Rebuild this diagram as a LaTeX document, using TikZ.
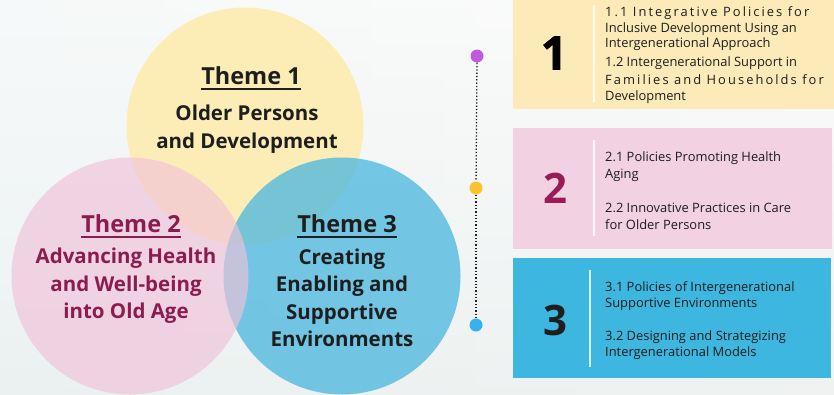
\documentclass[tikz,border=0pt]{standalone}
\usepackage{fontspec}
\setmainfont{Open Sans}
\newfontfamily\heavy{Open Sans Bold}[FakeBold=1.6]
\usetikzlibrary{positioning}
\definecolor{bgA}{HTML}{F7F7F5}
\definecolor{bgB}{HTML}{E8EFEF}
\definecolor{cYel}{HTML}{FCEDB6}
\definecolor{cPink}{HTML}{F0C2D9}
\definecolor{cBlue}{HTML}{4FB9DF}
\definecolor{bYel}{HTML}{FCEBB8}
\definecolor{bPink}{HTML}{F1D1E2}
\definecolor{bBlue}{HTML}{3DB6E0}
\definecolor{maroon}{HTML}{8C1B50}
\definecolor{numMaroon}{HTML}{9A1B55}
\definecolor{ink}{HTML}{1E1E1E}
\definecolor{dotP}{HTML}{C05BE0}
\definecolor{dotY}{HTML}{F7C42E}
\definecolor{dotB}{HTML}{36B2F2}
\tikzset{
  venn/.style={circle, minimum size=237pt, inner sep=0pt},
  themehead/.style={font=\fontsize{23.5}{26}\selectfont\bfseries, inner sep=0pt},
  themebody/.style={font=\fontsize{20.5}{27.5}\selectfont\bfseries, align=center, inner sep=0pt},
  bignum/.style={font=\fontsize{42}{42}\selectfont\bfseries, inner sep=0pt},
  item/.style={font=\fontsize{12.9}{15}\selectfont, text=ink, anchor=west, inner sep=0pt},
  sep/.style={draw=white, line width=1.4pt, opacity=0.8},
  tdot/.style={circle, minimum size=13pt, inner sep=0pt},
  uline/.style={line width=1.6pt}
}
\newcommand{\spc}[1]{{\addfontfeature{LetterSpace=16}#1}}
\begin{document}
\begin{tikzpicture}[x=1pt,y=-1pt]
\useasboundingbox (0,0) rectangle (834,394);
\shade[left color=bgB!70!white, right color=bgA] (0,0) rectangle (834,394);
\shade[top color=white, bottom color=bgB, opacity=0.5] (0,0) rectangle (834,394);
% circles
\node[venn, fill=cYel] (c1) at (245,126) {};
\node[venn, fill=cBlue, fill opacity=0.78] (c3) at (342,276) {};
\node[venn, fill=cPink, fill opacity=0.65] (c2) at (130,276) {};
% circle texts
\node[themehead, text=ink] (t1) at (251,76) {Theme 1};
\draw[uline, ink] ([yshift=-4pt]t1.south west) -- ([yshift=-4pt]t1.south east);
\node[themebody, text=ink] (b1) at (247,129) {Older Persons\\and Development};
\node[themehead, text=maroon] (t2) at (131,224) {Theme 2};
\draw[uline, maroon] ([yshift=-4pt]t2.south west) -- ([yshift=-4pt]t2.south east);
\node[themebody, text=maroon] (b2) at (126,286) {Advancing Health\\and Well-being\\into Old Age};
\node[themehead, text=ink] (t3) at (347,224) {Theme 3};
\draw[uline, ink] ([yshift=-4pt]t3.south west) -- ([yshift=-4pt]t3.south east);
\node[themebody, text=ink] (b3) at (342,298) {Creating\\Enabling and\\Supportive\\Environments};
% timeline
\node[tdot, fill=dotP] (d1) at (477,56) {};
\node[tdot, fill=dotY] (d2) at (476,188) {};
\node[tdot, fill=dotB] (d3) at (476,325) {};
\draw[ink, line width=1.3pt, dotted] (d1) -- (d2);
\draw[ink, line width=1.3pt, dotted] (d2) -- (d3);
% boxes
\fill[bYel] (513,0) rectangle (834,109);
\fill[bPink] (513,128) rectangle (832,249);
\fill[bBlue] (513,258) rectangle (831,378);
\node[inner sep=0pt, font=\fontsize{46}{46}\heavy, text=black] (n1) at (554,53) {1};
\node[bignum, text=numMaroon] (n2) at (555,188) {2};
\node[bignum, text=ink] (n3) at (555,320) {3};
\coordinate (s1a) at (594,5); \coordinate (s1b) at (594,102);
\coordinate (s2a) at (594,140); \coordinate (s2b) at (594,236);
\coordinate (s3a) at (590,270); \coordinate (s3b) at (590,367);
\draw[sep] (s1a) -- (s1b);
\draw[sep] (s2a) -- (s2b);
\draw[sep] (s3a) -- (s3b);
% box 1 texts
\node[item] (i1a) at (605,13) {\spc{1.1 Integrative Policies for}};
\node[item] (i1b) at (605,29) {Inclusive Development Using an};
\node[item] (i1c) at (605,44) {Intergenerational Approach};
\node[item] (i1d) at (605,63) {1.2 Intergenerational Support in};
\node[item] (i1e) at (605,80) {\spc{Families and Households for}};
\node[item] (i1f) at (605,97) {Development};
% box 2 texts
\node[item] (i2a) at (605,158) {2.1 Policies Promoting Health};
\node[item] (i2b) at (605,175) {Aging};
\node[item] (i2c) at (605,208) {2.2 Innovative Practices in Care};
\node[item] (i2d) at (605,225) {for Older Persons};
% box 3 texts
\node[item] (i3a) at (605,288) {3.1 Policies of Intergenerational};
\node[item] (i3b) at (605,304) {Supportive Environments};
\node[item] (i3c) at (605,337) {3.2 Designing and Strategizing};
\node[item] (i3d) at (605,353) {Intergenerational Models};
\end{tikzpicture}
\end{document}
